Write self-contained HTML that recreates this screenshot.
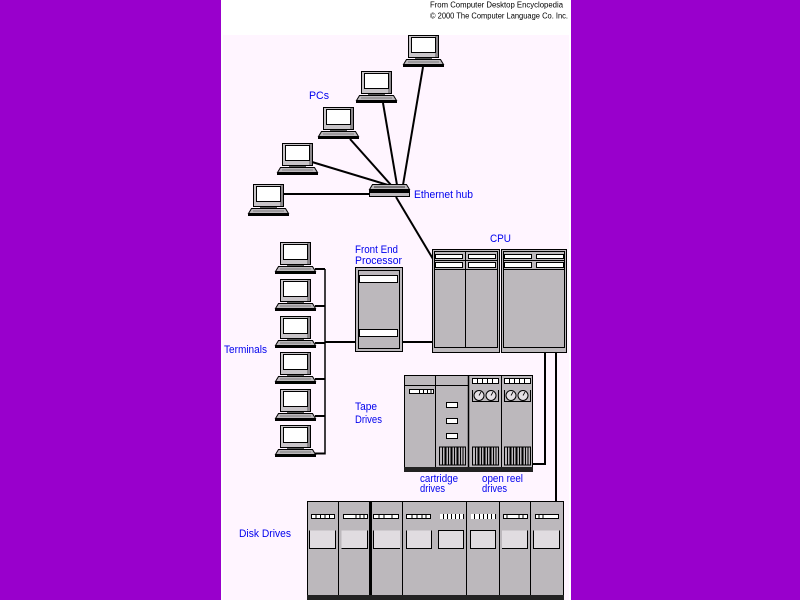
<!DOCTYPE html>
<html><head><meta charset="utf-8"><style>
html,body{margin:0;padding:0;background:#9900cc;}
svg{display:block}
text{font-family:"Liberation Sans",sans-serif;}
</style></head><body>
<svg width="800" height="600" viewBox="0 0 800 600" xmlns="http://www.w3.org/2000/svg">
<defs>
<g id="pc">
 <rect x="0.5" y="0.5" width="30" height="22" fill="#c8c4c8" stroke="#000"/>
 <rect x="27" y="1" width="3" height="21" fill="#8c888c"/>
 <rect x="3.5" y="2.5" width="24" height="15" fill="#fff" stroke="#000"/>
 <rect x="7" y="23" width="17" height="2" fill="#555"/>
 <polygon points="-1.5,24.5 32.5,24.5 35.5,29.5 -4.5,29.5" fill="#bcb8bc" stroke="#000"/>
 <line x1="0" y1="27" x2="31" y2="27" stroke="#666" stroke-width="0.8"/>
 <rect x="-5" y="30" width="41" height="2" fill="#000"/>
</g>
<g id="grille">
 <rect x="0.5" y="0.5" width="26" height="18" fill="#bcb8bc" stroke="#000"/>
 <g stroke="#000">
  <line x1="3.5" y1="0" x2="3.5" y2="19"/>
  <line x1="6.5" y1="0" x2="6.5" y2="19" stroke-width="2"/>
  <line x1="9.5" y1="0" x2="9.5" y2="19"/>
  <line x1="12.5" y1="0" x2="12.5" y2="19" stroke-width="2"/>
  <line x1="15.5" y1="0" x2="15.5" y2="19"/>
  <line x1="18.5" y1="0" x2="18.5" y2="19" stroke-width="2"/>
  <line x1="21.5" y1="0" x2="21.5" y2="19"/>
  <line x1="24" y1="0" x2="24" y2="19"/>
 </g>
</g>
<g id="reels">
 <rect x="0.5" y="0.5" width="26" height="5" fill="#fff" stroke="#000"/>
 <g stroke="#000"><line x1="5.5" y1="0" x2="5.5" y2="6"/><line x1="10.5" y1="0" x2="10.5" y2="6"/><line x1="15.5" y1="0" x2="15.5" y2="6"/><line x1="20.5" y1="0" x2="20.5" y2="6"/></g>
 <line x1="0.5" y1="12" x2="0.5" y2="23" stroke="#000"/>
 <line x1="26.5" y1="12" x2="26.5" y2="23" stroke="#000"/>
 <circle cx="7" cy="17.5" r="5" fill="#e4e0e4" stroke="#000"/>
 <circle cx="19" cy="17.5" r="5" fill="#e4e0e4" stroke="#000"/>
 <line x1="7" y1="17.5" x2="9" y2="14" stroke="#000" stroke-width="0.8"/>
 <line x1="19" y1="17.5" x2="21" y2="14" stroke="#000" stroke-width="0.8"/>
 <line x1="0" y1="23.5" x2="27" y2="23.5" stroke="#000"/>
</g>
</defs>

<rect width="800" height="600" fill="#9900cc"/>
<rect x="221" y="0" width="350" height="600" fill="#ffffff"/>
<rect x="223" y="35" width="346" height="565" fill="#fff5ff"/>

<!-- credits -->
<text x="430" y="7.5" font-size="8" textLength="133" lengthAdjust="spacingAndGlyphs" fill="#000">From Computer Desktop Encyclopedia</text>
<text x="430" y="18.3" font-size="8" textLength="138" lengthAdjust="spacingAndGlyphs" fill="#000">© 2000 The Computer Language Co. Inc.</text>

<!-- network lines -->
<g stroke="#000" stroke-width="2" fill="none">
 <line x1="283" y1="194" x2="370" y2="194"/>
 <line x1="312" y1="162" x2="388" y2="185"/>
 <line x1="350" y1="139" x2="391" y2="185"/>
 <line x1="383" y1="103" x2="397" y2="185"/>
 <line x1="423" y1="67" x2="403" y2="185"/>
 <line x1="396" y1="197" x2="433" y2="259"/>
</g>

<!-- PCs -->
<use href="#pc" x="408" y="35"/>
<use href="#pc" x="361" y="71"/>
<use href="#pc" x="323" y="107"/>
<use href="#pc" x="282" y="143"/>
<use href="#pc" x="253" y="184"/>

<!-- hub -->
<polygon points="372.5,184.5 406.5,184.5 409.5,189.5 369.5,189.5" fill="#bcb8bc" stroke="#000"/>
<line x1="374" y1="187" x2="405" y2="187" stroke="#000" stroke-width="0.8"/>
<rect x="369" y="190" width="41" height="2" fill="#000"/>
<rect x="369.5" y="192.5" width="40" height="4" fill="#bcb8bc" stroke="#000"/>

<!-- terminal wiring -->
<g stroke="#000">
 <line x1="325" y1="269" x2="325" y2="454.5" stroke-width="1.5"/>
 <g stroke-width="2">
  <line x1="315" y1="269" x2="325" y2="269"/>
  <line x1="315" y1="306" x2="325" y2="306"/>
  <line x1="315" y1="343" x2="325" y2="343"/>
  <line x1="315" y1="379" x2="325" y2="379"/>
  <line x1="315" y1="416" x2="325" y2="416"/>
  <line x1="315" y1="453.5" x2="325" y2="453.5"/>
  <line x1="325" y1="342" x2="356" y2="342"/>
  <line x1="402" y1="342" x2="433" y2="342"/>
  <line x1="545" y1="352" x2="545" y2="465"/>
  <line x1="546" y1="464" x2="532" y2="464"/>
  <line x1="556" y1="352" x2="556" y2="502"/>
 </g>
</g>

<!-- terminals -->
<use href="#pc" x="280" y="242"/>
<use href="#pc" x="280" y="279"/>
<use href="#pc" x="280" y="316"/>
<use href="#pc" x="280" y="352"/>
<use href="#pc" x="280" y="389"/>
<use href="#pc" x="280" y="425"/>

<!-- Front End Processor -->
<rect x="355.5" y="267.5" width="47" height="84" fill="#bcb8bc" stroke="#000"/>
<rect x="358.5" y="270.5" width="41" height="78" fill="#bcb8bc" stroke="#000"/>
<rect x="359.5" y="275.5" width="38" height="7" fill="#fff" stroke="#000"/>
<rect x="359.5" y="329.5" width="38" height="7" fill="#fff" stroke="#000"/>

<!-- CPU -->
<rect x="432.5" y="249.5" width="67" height="103" fill="#bcb8bc" stroke="#000"/>
<rect x="501.5" y="249.5" width="65" height="103" fill="#bcb8bc" stroke="#000"/>
<rect x="434.5" y="251.5" width="63" height="96" fill="none" stroke="#000"/>
<rect x="503.5" y="251.5" width="61" height="96" fill="none" stroke="#000"/>
<g stroke="#000">
 <line x1="434.5" y1="260.5" x2="497.5" y2="260.5"/>
 <line x1="434.5" y1="269.5" x2="497.5" y2="269.5"/>
 <line x1="503.5" y1="260.5" x2="564.5" y2="260.5"/>
 <line x1="503.5" y1="269.5" x2="564.5" y2="269.5"/>
 <line x1="465.5" y1="251.5" x2="465.5" y2="347.5"/>
</g>
<g fill="#fff" stroke="#000">
 <rect x="435.5" y="254.5" width="27" height="4"/>
 <rect x="468.5" y="254.5" width="27" height="4"/>
 <rect x="504.5" y="254.5" width="27" height="4"/>
 <rect x="536.5" y="254.5" width="27" height="4"/>
 <rect x="435.5" y="262.5" width="27" height="5"/>
 <rect x="468.5" y="262.5" width="27" height="5"/>
 <rect x="504.5" y="262.5" width="27" height="5"/>
 <rect x="536.5" y="262.5" width="27" height="5"/>
</g>

<!-- Tape drives -->
<rect x="404.5" y="375.5" width="128" height="92" fill="#bcb8bc" stroke="#000"/>
<rect x="404" y="467" width="129" height="5" fill="#222"/>
<g stroke="#000">
 <line x1="435.5" y1="375" x2="435.5" y2="467"/>
 <line x1="468.5" y1="375" x2="468.5" y2="467" stroke-width="1.5"/>
 <line x1="501.5" y1="375" x2="501.5" y2="467"/>
 <line x1="404.5" y1="385.5" x2="468.5" y2="385.5"/>
</g>
<rect x="409.5" y="389.5" width="24" height="4" fill="#fff" stroke="#000"/>
<g stroke="#000"><line x1="419.5" y1="389" x2="419.5" y2="394"/><line x1="423.5" y1="389" x2="423.5" y2="394"/><line x1="427.5" y1="389" x2="427.5" y2="394"/><line x1="431" y1="389" x2="431" y2="394"/></g>
<g fill="#fff" stroke="#000">
 <rect x="446.5" y="402.5" width="11" height="5"/>
 <rect x="446.5" y="418.5" width="11" height="5"/>
 <rect x="446.5" y="433.5" width="11" height="5"/>
</g>
<use href="#grille" x="439" y="446.5"/>
<use href="#reels" x="472" y="378"/>
<use href="#reels" x="504" y="378"/>
<use href="#grille" x="472" y="446.5"/>
<use href="#grille" x="504" y="446.5"/>

<!-- Disk drives -->
<rect x="307.5" y="501.5" width="256" height="94" fill="#bcb8bc" stroke="#000"/>
<rect x="307" y="595" width="257" height="5" fill="#222"/>
<g stroke="#000">
 <line x1="338.5" y1="501" x2="338.5" y2="595"/>
 <line x1="370.5" y1="501" x2="370.5" y2="595" stroke-width="3"/>
 <line x1="402.5" y1="501" x2="402.5" y2="595"/>
 <line x1="466.5" y1="501" x2="466.5" y2="595"/>
 <line x1="499.5" y1="501" x2="499.5" y2="595"/>
 <line x1="530.5" y1="501" x2="530.5" y2="595"/>
</g>
<!-- disk bars -->
<g fill="#fff" stroke="#000">
 <rect x="311.5" y="514.5" width="23" height="4"/>
 <rect x="343.5" y="514.5" width="24" height="4"/>
 <rect x="373.5" y="514.5" width="25" height="4"/>
 <rect x="406.5" y="514.5" width="24" height="4"/>
 <rect x="503.5" y="514.5" width="24" height="4"/>
 <rect x="535.5" y="514.5" width="23" height="4"/>
</g>
<rect x="440" y="514" width="24" height="5" fill="#fff"/>
<rect x="471" y="514" width="25" height="5" fill="#fff"/>
<g stroke="#000">
 <line x1="316" y1="514" x2="316" y2="519"/><line x1="320.5" y1="514" x2="320.5" y2="519"/><line x1="325" y1="514" x2="325" y2="519"/><line x1="329.5" y1="514" x2="329.5" y2="519"/>
 <line x1="356" y1="514" x2="356" y2="519"/><line x1="360" y1="514" x2="360" y2="519"/><line x1="364" y1="514" x2="364" y2="519"/>
 <line x1="379" y1="514" x2="379" y2="519"/><line x1="384" y1="514" x2="384" y2="519"/><line x1="392" y1="514" x2="392" y2="519"/>
 <line x1="412" y1="514" x2="412" y2="519"/><line x1="417" y1="514" x2="417" y2="519"/><line x1="422" y1="514" x2="422" y2="519"/><line x1="426" y1="514" x2="426" y2="519"/>
 <line x1="443.5" y1="514" x2="443.5" y2="519"/><line x1="447.5" y1="514" x2="447.5" y2="519"/><line x1="451.5" y1="514" x2="451.5" y2="519"/><line x1="455.5" y1="514" x2="455.5" y2="519"/><line x1="459.5" y1="514" x2="459.5" y2="519"/><line x1="463.5" y1="514" x2="463.5" y2="519"/>
 <line x1="474.5" y1="514" x2="474.5" y2="519"/><line x1="479.5" y1="514" x2="479.5" y2="519"/><line x1="483.5" y1="514" x2="483.5" y2="519"/><line x1="487.5" y1="514" x2="487.5" y2="519"/><line x1="491.5" y1="514" x2="491.5" y2="519"/><line x1="495.5" y1="514" x2="495.5" y2="519"/>
 <line x1="507" y1="514" x2="507" y2="519"/><line x1="519" y1="514" x2="519" y2="519"/><line x1="523" y1="514" x2="523" y2="519"/>
 <line x1="539" y1="514" x2="539" y2="519"/><line x1="543" y1="514" x2="543" y2="519"/>
</g>
<!-- disk windows -->
<g fill="#e0dce0">
 <rect x="309.5" y="530.5" width="26" height="18"/>
 <rect x="341.5" y="530.5" width="26" height="18"/>
 <rect x="373.5" y="530.5" width="26.5" height="18"/>
 <rect x="406" y="530.5" width="25.5" height="18"/>
 <rect x="438.5" y="530.5" width="25" height="18"/>
 <rect x="470" y="530.5" width="25.5" height="18"/>
 <rect x="502" y="530.5" width="25.5" height="18"/>
 <rect x="533.5" y="530.5" width="26" height="18"/>
</g>
<g fill="none" stroke="#000">
 <path d="M309.5,530.5 V548.5 H335.5 V530.5"/>
 <path d="M341.5,548.5 H367.5 V530.5"/>
 <path d="M373.5,530.5 V548.5 H400"/>
 <path d="M406.5,530.5 V548.5 H431.5 V530.5"/>
 <rect x="438.5" y="530.5" width="25" height="18"/>
 <rect x="470.5" y="530.5" width="25" height="18"/>
 <path d="M502,548.5 H527.5 V530.5"/>
 <path d="M533.5,530.5 V548.5 H559.5 V530.5"/>
</g>

<!-- labels -->
<g fill="#0000ee" font-size="11">
 <text x="309" y="99" textLength="20" lengthAdjust="spacingAndGlyphs">PCs</text>
 <text x="414" y="198" textLength="59" lengthAdjust="spacingAndGlyphs">Ethernet hub</text>
 <text x="490" y="242" textLength="21" lengthAdjust="spacingAndGlyphs">CPU</text>
 <text x="355" y="253" textLength="43" lengthAdjust="spacingAndGlyphs">Front End</text>
 <text x="355" y="264" textLength="47" lengthAdjust="spacingAndGlyphs">Processor</text>
 <text x="224" y="353" textLength="43" lengthAdjust="spacingAndGlyphs">Terminals</text>
 <text x="355" y="410" textLength="22" lengthAdjust="spacingAndGlyphs">Tape</text>
 <text x="355" y="423" textLength="27" lengthAdjust="spacingAndGlyphs">Drives</text>
 <text x="420" y="482" textLength="38" lengthAdjust="spacingAndGlyphs">cartridge</text>
 <text x="420" y="492" textLength="25" lengthAdjust="spacingAndGlyphs">drives</text>
 <text x="482" y="482" textLength="41" lengthAdjust="spacingAndGlyphs">open reel</text>
 <text x="482" y="492" textLength="25" lengthAdjust="spacingAndGlyphs">drives</text>
 <text x="239" y="537" textLength="52" lengthAdjust="spacingAndGlyphs">Disk Drives</text>
</g>
</svg>
</body></html>
